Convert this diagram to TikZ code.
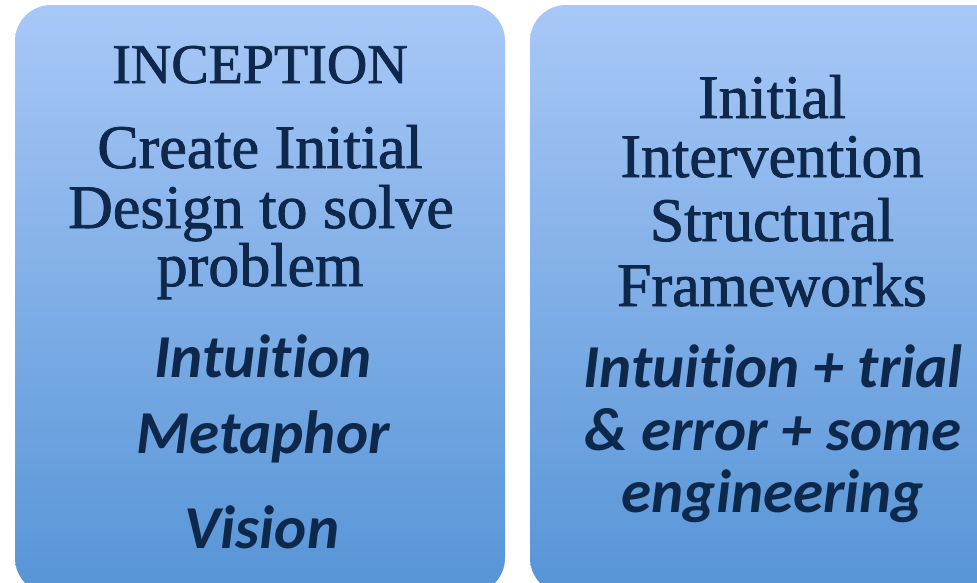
\documentclass[tikz,border=0pt]{standalone}
\usepackage{fontspec}
\setmainfont[FakeBold=1.3]{Liberation Serif}
\newfontfamily\italfont[Ligatures=NoCommon]{Carlito}
\begin{document}
\begin{tikzpicture}[x=1pt,y=-1pt,
  panel/.style={rounded corners=36pt, top color=paneltop, bottom color=panelbot, draw=none},
  headline/.style={anchor=base, inner sep=0pt, text=ink, font=\fontsize{62}{62}\selectfont},
  slant/.style={anchor=base, inner sep=0pt, text=ink, font=\italfont\bfseries\itshape\fontsize{61}{61}\selectfont}]
\definecolor{paneltop}{RGB}{168,200,247}
\definecolor{panelbot}{RGB}{86,148,214}
\definecolor{ink}{RGB}{14,40,76}
\useasboundingbox (0,0) rectangle (977,582);
\clip (0,0) rectangle (977,582);
\fill[white] (0,0) rectangle (977,582);
% two panels, running past the lower edge
\path[panel] (15,5) rectangle (505,594);
\path[panel] (530,5) rectangle (1020,594);
% left panel
\node[headline, font=\fontsize{56}{56}\selectfont] (l1) at (260,83) {INCEPTION};
\node[headline] (l2) at (260,168) {Create Initial};
\node[headline] (l3) at (261,228) {Design to solve};
\node[headline] (l4) at (260,286) {problem};
\node[slant] (l5) at (263,377) {Intuition};
\node[slant] (l6) at (263,453) {Metaphor};
\node[slant] (l7) at (262,548) {Vision};
% right panel
\node[headline] (r1) at (772,118) {Initial};
\node[headline] (r2) at (772,177) {Intervention};
\node[headline] (r3) at (772,241) {Structural};
\node[headline] (r4) at (772,306) {Frameworks};
\node[slant] (r5) at (773,387) {Intuition + trial};
\node[slant] (r6) at (773,450) {\& error + some};
\node[slant] (r7) at (773,512) {engineering};
\end{tikzpicture}
\end{document}
